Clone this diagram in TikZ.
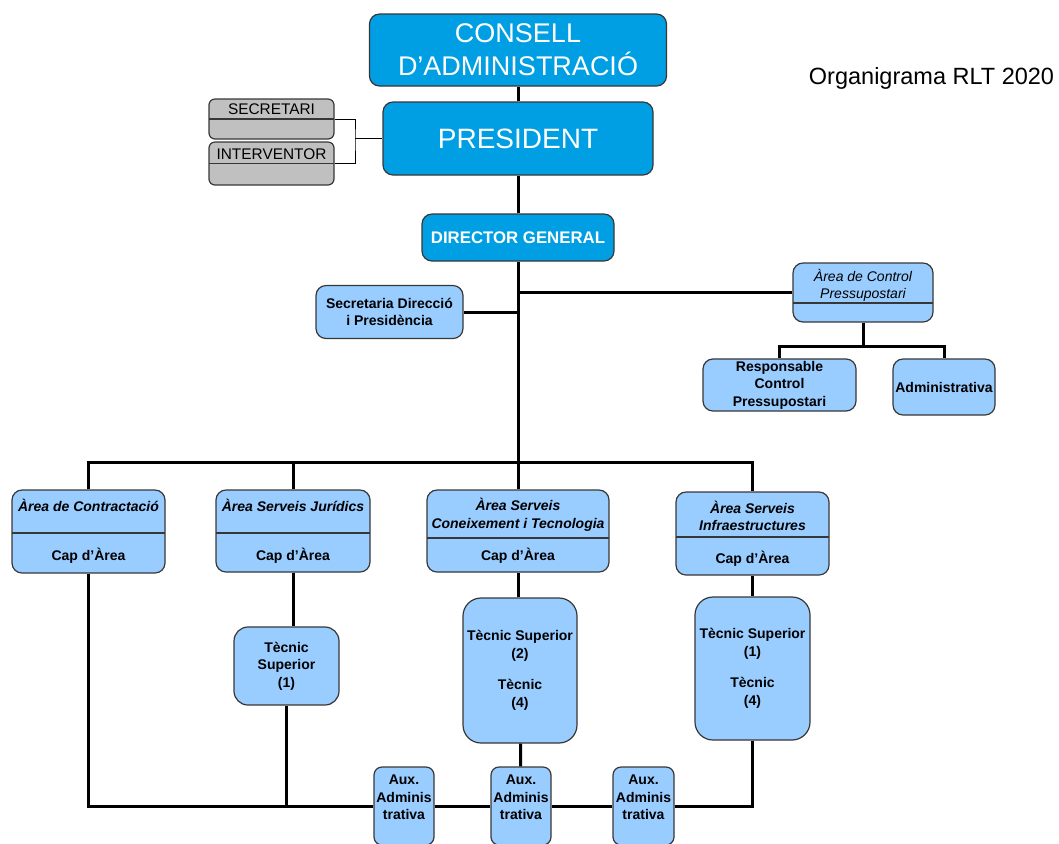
\documentclass[tikz,border=0pt]{standalone}
\usepackage{fontspec}
\setmainfont{Liberation Sans}
\usetikzlibrary{positioning}

\definecolor{darkblue}{RGB}{0,159,227}
\definecolor{paleblue}{RGB}{153,204,255}
\definecolor{greyfill}{RGB}{192,192,192}
\definecolor{edge}{RGB}{55,55,55}

\tikzset{
  box/.style={draw=edge, line width=0.6pt, rounded corners=5pt, align=center, inner sep=1pt},
  topbox/.style={box, fill=darkblue, text=white},
  areabox/.style={box, fill=paleblue, font=\fontsize{7}{8.75}\selectfont\bfseries},
  greybox/.style={box, fill=greyfill, rounded corners=3pt, font=\fontsize{7.7}{9.5}\selectfont},
  splitline/.style={path picture={\draw[edge, line width=0.6pt] ([yshift=#1]path picture bounding box.west) -- ([yshift=#1]path picture bounding box.east);}},
  link/.style={line width=1.5pt},
  thinlink/.style={line width=0.5pt},
}

\begin{document}
\begin{tikzpicture}[x=0.5pt, y=-0.5pt]
\useasboundingbox (0,0) rectangle (1059,843);

% top of the chart
\node [topbox, minimum width=148.5pt, minimum height=36pt, font=\fontsize{13.5}{16.5}\selectfont] (consell) at (518,50) {CONSELL\\D’ADMINISTRACIÓ};
\node [topbox, minimum width=135pt, minimum height=36.5pt, font=\fontsize{14}{16}\selectfont] (president) at (518,138.5) {PRESIDENT};
\node [topbox, minimum width=96pt, minimum height=23.5pt, font=\fontsize{8.4}{10}\selectfont\bfseries] (dirgen) at (518,237.5) {DIRECTOR GENERAL};
\node [font=\fontsize{11.75}{14}\selectfont] (title) at (931.5,78) {Organigrama RLT 2020};

\node [greybox, splitline=0pt, minimum width=62.5pt, minimum height=20pt] (secretari) at (271.5,119) {SECRETARI\\~};
\node [greybox, splitline=0pt, minimum width=62.5pt, minimum height=21.5pt] (interventor) at (271.5,163.5) {INTERVENTOR\\~};

% staff of the director
\node [areabox, minimum width=73.5pt, minimum height=26.5pt] (secdir) at (389.5,312) {Secretaria Direcció\\i Presidència};
\node [areabox, splitline=-5.25pt, minimum width=70pt, minimum height=29.5pt, font=\fontsize{7}{8.5}\selectfont\itshape] (control) at (863,292.5) {Àrea de Control\\Pressupostari\\~};
\node [areabox, minimum width=76.5pt, minimum height=26pt] (resp) at (779.5,385) {Responsable\\Control\\Pressupostari};
\node [areabox, minimum width=51pt, minimum height=28pt] (admin) at (944,387) {Administrativa};

% areas
\node [areabox, splitline=-0.75pt, minimum width=76.5pt, minimum height=41.5pt] (contractacio) at (88.5,531.5) {\textit{Àrea de Contractació}\\[15.75pt]Cap d’Àrea};
\node [areabox, splitline=-1pt, minimum width=77pt, minimum height=41pt] (juridics) at (293,531) {\textit{Àrea Serveis Jurídics}\\[15.75pt]Cap d’Àrea};
\node [areabox, splitline=-3.5pt, minimum width=91pt, minimum height=41pt] (coneixement) at (518,531) {\textit{Àrea Serveis}\\\textit{Coneixement i Tecnologia}\\[7.5pt]Cap d’Àrea};
\node [areabox, splitline=-1.75pt, minimum width=76.5pt, minimum height=41.5pt] (infraestructures) at (752.5,533.5) {\textit{Àrea Serveis}\\\textit{Infraestructures}\\[7.5pt]Cap d’Àrea};

\node [areabox, rounded corners=7pt, minimum width=52.5pt, minimum height=39pt] (tecjur) at (286.5,666) {Tècnic\\Superior\\(1)};
\node [areabox, rounded corners=9pt, minimum width=57pt, minimum height=72.5pt] (tecconeix) at (520,670.5) {Tècnic Superior\\(2)\\[7pt]Tècnic\\(4)};
\node [areabox, rounded corners=9pt, minimum width=57.5pt, minimum height=71.5pt] (tecinfra) at (752.5,668.5) {Tècnic Superior\\(1)\\[7pt]Tècnic\\(4)};

\node [areabox, rounded corners=4pt, minimum width=30pt, minimum height=39pt] (aux1) at (404,806) {Aux.\\Adminis\\trativa\\~};
\node [areabox, rounded corners=4pt, minimum width=30pt, minimum height=39pt] (aux2) at (521,806) {Aux.\\Adminis\\trativa\\~};
\node [areabox, rounded corners=4pt, minimum width=30.5pt, minimum height=39pt] (aux3) at (643.5,806) {Aux.\\Adminis\\trativa\\~};

\coordinate (sijoin) at (355,138.5);
\coordinate (ctrlbus) at (863,346);
\coordinate (areabus) at (518,462);

% connectors
\draw [thinlink] (secretari) -| (sijoin) |- (interventor);
\draw [thinlink] (sijoin) -- (president);

\draw [link] (consell) -- (president);
\draw [link] (president) -- (dirgen);
\draw [link] (dirgen) -- (coneixement);
\draw [link] (secdir.east) -- (secdir.east -| dirgen.south);
\draw [link] (control.west) -- (control.west -| dirgen.south);
\draw [link] (control) -- (ctrlbus);
\draw [link] (resp.north) |- (ctrlbus) -| (admin.north);

\draw [link] (contractacio) |- (areabus) -| (infraestructures);
\draw [link] (juridics) -- (juridics |- areabus);

\draw [link] (juridics) -- (juridics |- tecjur.north);
\draw [link] (coneixement) -- (coneixement |- tecconeix.north);
\draw [link] (infraestructures) -- (tecinfra);
\draw [link] (tecconeix) -- (aux2);

\draw [link] (contractacio) |- (aux1);
\draw [link] (tecjur) -- (tecjur |- aux1);
\draw [link] (aux1) -- (aux2);
\draw [link] (aux2) -- (aux3);
\draw [link] (aux3) -| (tecinfra);
\end{tikzpicture}
\end{document}
